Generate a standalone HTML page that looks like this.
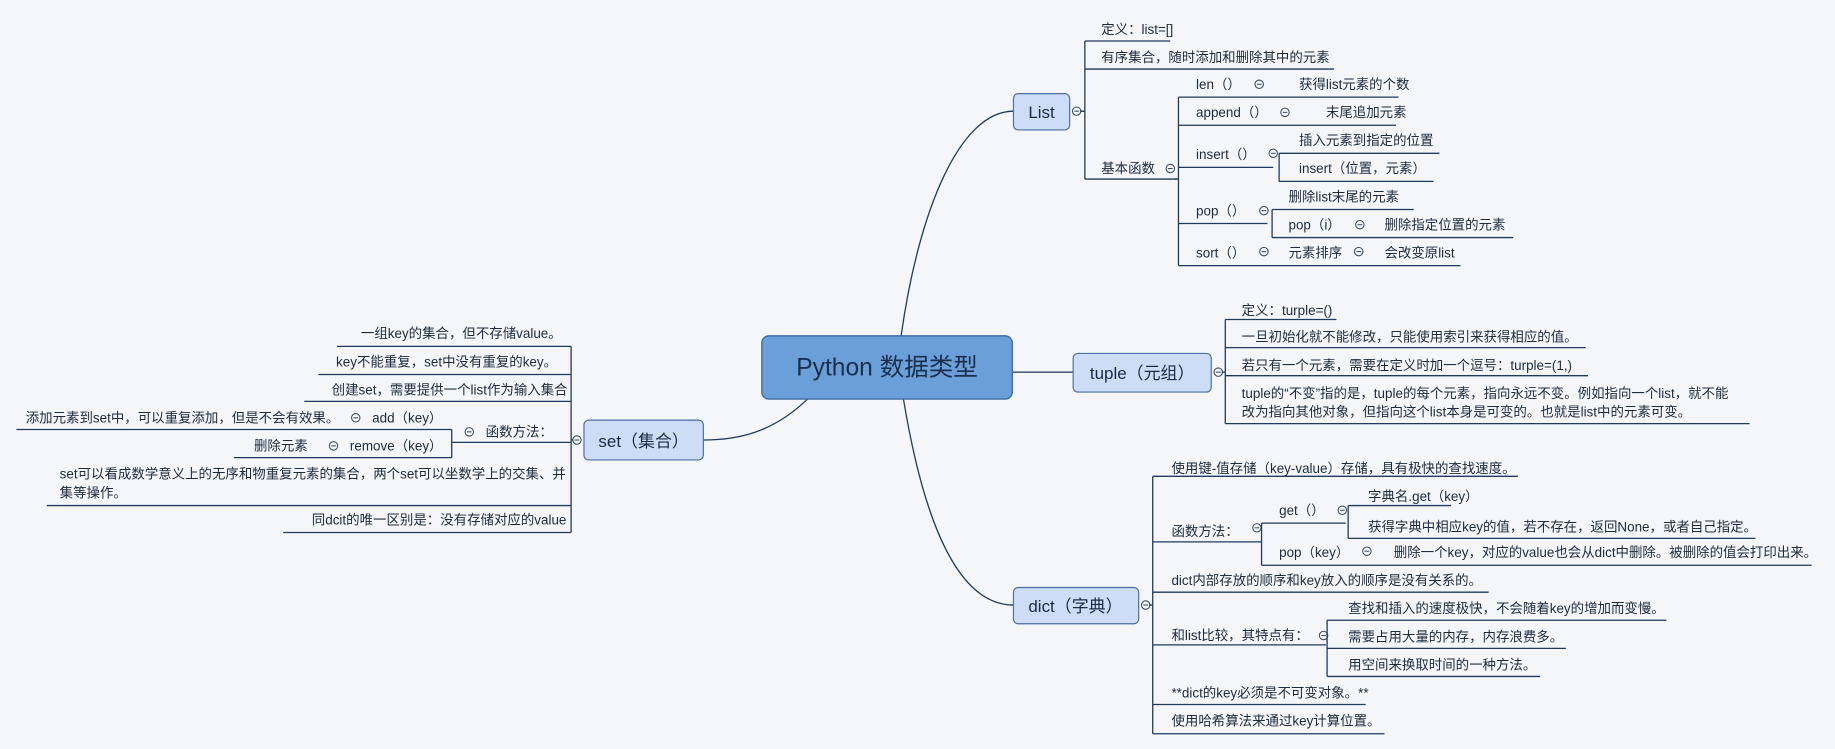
<!DOCTYPE html>
<html><head><meta charset="utf-8"><style>
html,body{margin:0;padding:0;background:#f4f6f9;}
svg{display:block}
text{font-family:"Liberation Sans","Noto Sans CJK SC",sans-serif;font-size:11.5px;fill:#1c2b3f}
.l{stroke:#1e3a5f;stroke-width:1.1;fill:none}
.c{stroke:#3a4d66;stroke-width:0.9;fill:#f4f6f9}
</style></head><body>
<svg width="1835" height="749" viewBox="0 0 1568 640" xmlns="http://www.w3.org/2000/svg">
<rect width="1568" height="640" fill="#f4f6f9"/>
<defs>
<g id="cm"><circle class="c" r="3.6"/><line x1="-2" x2="2" stroke="#3a4d66" stroke-width="0.9"/></g>
</defs>
<!-- main connectors -->
<path class="l" d="M770,287 C785,180 820,95 866,95"/>
<path class="l" d="M865,318 L917,318"/>
<path class="l" d="M690,341 C660,370 630,376 601,376"/>
<path class="l" d="M772,341 C790,450 820,517 866,517"/>
<!-- root -->
<rect x="651" y="287" width="214" height="54" rx="6" fill="#6a9fd9" stroke="#3f6fa6" stroke-width="1.2"/>
<text x="758" y="321" text-anchor="middle" style="font-size:21px;fill:#1a2f4a">Python 数据类型</text>
<!-- List -->
<rect x="866" y="80" width="48" height="31" rx="4" fill="#cddcf7" stroke="#4a6fa5"/>
<text x="890" y="101" text-anchor="middle" style="font-size:14.5px">List</text>
<use href="#cm" x="920" y="95"/>
<path class="l" d="M923,95 L927,95 M927,35 L927,153 M927,35 L1000,35 M927,59 L1140,59 M927,153 L1006,153"/>
<text x="941" y="29">定义：list=[]</text>
<text x="941" y="53">有序集合，随时添加和删除其中的元素</text>
<text x="941" y="148">基本函数</text>
<use href="#cm" x="1000" y="144"/>
<path class="l" d="M1004,153 L1007,153 M1007,83 L1007,227 M1007,83 L1195,83 M1007,107 L1193,107 M1007,143 L1088,143 M1007,191 L1083,191 M1007,227 L1248,227"/>
<text x="1022" y="76">len（）</text><use href="#cm" x="1076" y="72"/><text x="1110" y="76">获得list元素的个数</text>
<text x="1022" y="100">append（）</text><use href="#cm" x="1098" y="96"/><text x="1133" y="100">末尾追加元素</text>
<text x="1022" y="136">insert（）</text><use href="#cm" x="1088" y="131"/>
<path class="l" d="M1093,131 L1093,155 M1093,131 L1230,131 M1093,155 L1225,155"/>
<text x="1110" y="124">插入元素到指定的位置</text><text x="1110" y="148">insert（位置，元素）</text>
<text x="1022" y="184">pop（）</text><use href="#cm" x="1080" y="180"/>
<path class="l" d="M1087,179 L1087,203 M1087,179 L1208,179 M1087,203 L1293,203"/>
<text x="1101" y="172">删除list末尾的元素</text>
<text x="1101" y="196">pop（i）</text><use href="#cm" x="1162" y="192"/><text x="1183" y="196">删除指定位置的元素</text>
<text x="1022" y="220">sort（）</text><use href="#cm" x="1080" y="215"/><text x="1101" y="220">元素排序</text><use href="#cm" x="1161" y="215"/><text x="1183" y="220">会改变原list</text>
<!-- tuple -->
<rect x="917" y="302" width="118" height="33" rx="4" fill="#cddcf7" stroke="#4a6fa5"/>
<text x="976" y="324" text-anchor="middle" style="font-size:14.5px">tuple（元组）</text>
<use href="#cm" x="1041" y="318"/>
<path class="l" d="M1044,318 L1047,318 M1047,273 L1047,362 M1047,273 L1142,273 M1047,297 L1355,297 M1047,321 L1357,321 M1047,362 L1495,362"/>
<text x="1061" y="269">定义：turple=()</text>
<text x="1061" y="292">一旦初始化就不能修改，只能使用索引来获得相应的值。</text>
<text x="1061" y="316">若只有一个元素，需要在定义时加一个逗号：turple=(1,)</text>
<text x="1061" y="340">tuple的“不变”指的是，tuple的每个元素，指向永远不变。例如指向一个list，就不能</text>
<text x="1061" y="356">改为指向其他对象，但指向这个list本身是可变的。也就是list中的元素可变。</text>
<!-- set -->
<rect x="499" y="359" width="102" height="34" rx="4" fill="#cddcf7" stroke="#4a6fa5"/>
<text x="550" y="382" text-anchor="middle" style="font-size:14.5px">set（集合）</text>
<use href="#cm" x="493" y="376"/>
<path class="l" d="M490,376 L488,376 M488,296 L488,455 M288,296 L488,296 M272,320 L488,320 M260,343 L488,343 M386,378 L488,378 M40,432 L488,432 M242,455 L488,455"/>
<text x="480" y="289" text-anchor="end">一组key的集合，但不存储value。</text>
<text x="476" y="313" text-anchor="end">key不能重复，set中没有重复的key。</text>
<text x="485" y="337" text-anchor="end">创建set，需要提供一个list作为输入集合</text>
<text x="415" y="373">函数方法：</text><use href="#cm" x="401" y="369"/>
<path class="l" d="M386,367 L386,391 M14,367 L386,367 M200,391 L386,391"/>
<text x="22" y="361">添加元素到set中，可以重复添加，但是不会有效果。</text><use href="#cm" x="304" y="357"/><text x="318" y="361">add（key）</text>
<text x="217" y="385">删除元素</text><use href="#cm" x="285" y="381"/><text x="299" y="385">remove（key）</text>
<text x="51" y="409">set可以看成数学意义上的无序和物重复元素的集合，两个set可以坐数学上的交集、并</text>
<text x="51" y="425">集等操作。</text>
<text x="484" y="448" text-anchor="end">同dcit的唯一区别是：没有存储对应的value</text>
<!-- dict -->
<rect x="866" y="502" width="107" height="31" rx="4" fill="#cddcf7" stroke="#4a6fa5"/>
<text x="919" y="523" text-anchor="middle" style="font-size:14.5px">dict（字典）</text>
<use href="#cm" x="979" y="517"/>
<path class="l" d="M982,517 L985,517 M985,407 L985,627 M985,407 L1297,407 M985,463 L1078,463 M985,506 L1272,506 M985,551 L1133,551 M985,602 L1167,602 M985,627 L1183,627"/>
<text x="1001" y="404">使用键-值存储（key-value）存储，具有极快的查找速度。</text>
<text x="1001" y="458">函数方法：</text><use href="#cm" x="1074" y="451"/>
<path class="l" d="M1078,447 L1078,483 M1078,447 L1150,447 M1078,483 L1548,483"/>
<text x="1093" y="440">get（）</text><use href="#cm" x="1147" y="436"/>
<path class="l" d="M1152,432 L1152,460 M1152,432 L1240,432 M1152,460 L1500,460"/>
<text x="1169" y="428">字典名.get（key）</text>
<text x="1169" y="454">获得字典中相应key的值，若不存在，返回None，或者自己指定。</text>
<text x="1093" y="476">pop（key）</text><use href="#cm" x="1168" y="471"/>
<text x="1191" y="476">删除一个key，对应的value也会从dict中删除。被删除的值会打印出来。</text>
<text x="1001" y="500">dict内部存放的顺序和key放入的顺序是没有关系的。</text>
<text x="1001" y="547">和list比较，其特点有：</text><use href="#cm" x="1131" y="543"/>
<path class="l" d="M1134,530 L1134,578 M1134,530 L1424,530 M1134,554 L1338,554 M1134,578 L1316,578"/>
<text x="1152" y="524">查找和插入的速度极快，不会随着key的增加而变慢。</text>
<text x="1152" y="548">需要占用大量的内存，内存浪费多。</text>
<text x="1152" y="572">用空间来换取时间的一种方法。</text>
<text x="1001" y="596">**dict的key必须是不可变对象。**</text>
<text x="1001" y="620">使用哈希算法来通过key计算位置。</text>
</svg>
</body></html>
